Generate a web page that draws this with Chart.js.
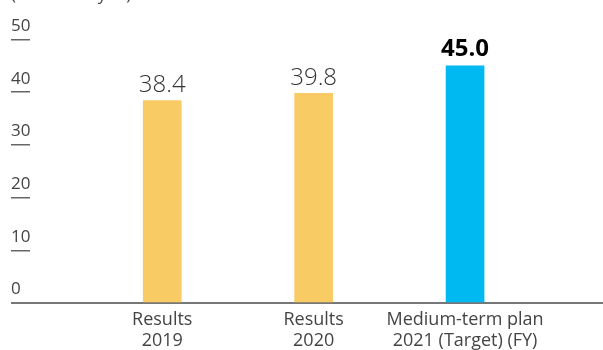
<!DOCTYPE html>
<html>
<head>
<meta charset="utf-8">
<script src="https://cdn.jsdelivr.net/npm/chart.js@4/dist/chart.umd.min.js"></script>
<style>
  html, body { margin: 0; padding: 0; background: #fff; }
  #wrap { width: 603px; height: 350px; position: relative; }
</style>
</head>
<body>
<div id="wrap"><canvas id="c"></canvas></div>
<script>
const unitLabel = '(Billions of yen)';
const categories = [['Results', '2019'], ['Results', '2020'], ['Medium-term plan', '2021 (Target) (FY)']];
const values = [38.4, 39.8, 45.0];
const barColors = ['#F9CB64', '#F9CB64', '#00B9F1'];
const highlight = [false, false, true];
const yTicks = [0, 10, 20, 30, 40, 50];

const valueLabels = {
  id: 'valueLabels',
  afterDatasetsDraw(chart) {
    const ctx = chart.ctx;
    const meta = chart.getDatasetMeta(0);
    ctx.save();
    ctx.textAlign = 'center';
    ctx.textBaseline = 'alphabetic';
    meta.data.forEach((el, i) => {
      if (highlight[i]) {
        ctx.font = 'bold 24px "Open Sans"';
        ctx.fillStyle = '#000';
        ctx.fillText(values[i].toFixed(1), el.x, el.y - 9.5);
      } else {
        ctx.font = '300 24px "Open Sans"';
        ctx.fillStyle = '#333';
        ctx.fillText(values[i].toFixed(1), el.x, el.y - 8.5);
      }
    });
    ctx.restore();
  }
};

new Chart(document.getElementById('c'), {
  type: 'bar',
  data: {
    datasets: [{
      data: values.map((v, i) => ({ x: i + 1, y: v })),
      backgroundColor: barColors,
      barThickness: 38,
      borderWidth: 0
    }]
  },
  options: {
    responsive: true,
    maintainAspectRatio: false,
    animation: false,
    layout: { padding: { left: 11, right: 0, top: 0, bottom: 0 } },
    plugins: {
      legend: { display: false },
      tooltip: { enabled: false },
      title: {
        display: true,
        text: unitLabel,
        align: 'start',
        color: '#444',
        font: { family: 'Open Sans', size: 17, weight: '400' },
        padding: { top: -15, bottom: 34.1 }
      }
    },
    scales: {
      x: {
        type: 'linear',
        offset: false,
        bounds: 'data',
        min: 0.1265,
        max: 3.911,
        afterBuildTicks: s => { s.ticks = categories.map((_, i) => ({ value: i + 1 })); },
        afterFit: s => { s.height = 47; },
        grid: { display: false, drawTicks: false, offset: false },
        border: { display: true, color: '#777', width: 2 },
        ticks: {
          autoSkip: false,
          maxRotation: 0,
          padding: 7,
          color: '#444',
          font: { family: 'Open Sans', size: 18, weight: '400', lineHeight: 1.14 },
          callback: v => categories[Math.round(v) - 1] || ''
        }
      },
      y: {
        min: 0,
        max: 50,
        afterBuildTicks: s => { s.ticks = yTicks.map(v => ({ value: v })); },
        afterFit: s => { s.width = 19; },
        border: { display: false },
        grid: {
          drawOnChartArea: false,
          drawTicks: true,
          tickLength: 19,
          color: c => (c.tick && c.tick.value === 0 ? '#777' : '#666'),
          lineWidth: c => (c.tick && c.tick.value === 0 ? 2 : 1.5)
        },
        ticks: {
          crossAlign: 'far',
          padding: 0,
          labelOffset: -13.5,
          color: '#444',
          font: { family: 'Open Sans', size: 17, weight: '400' }
        }
      }
    }
  },
  plugins: [valueLabels]
});
</script>
</body>
</html>
